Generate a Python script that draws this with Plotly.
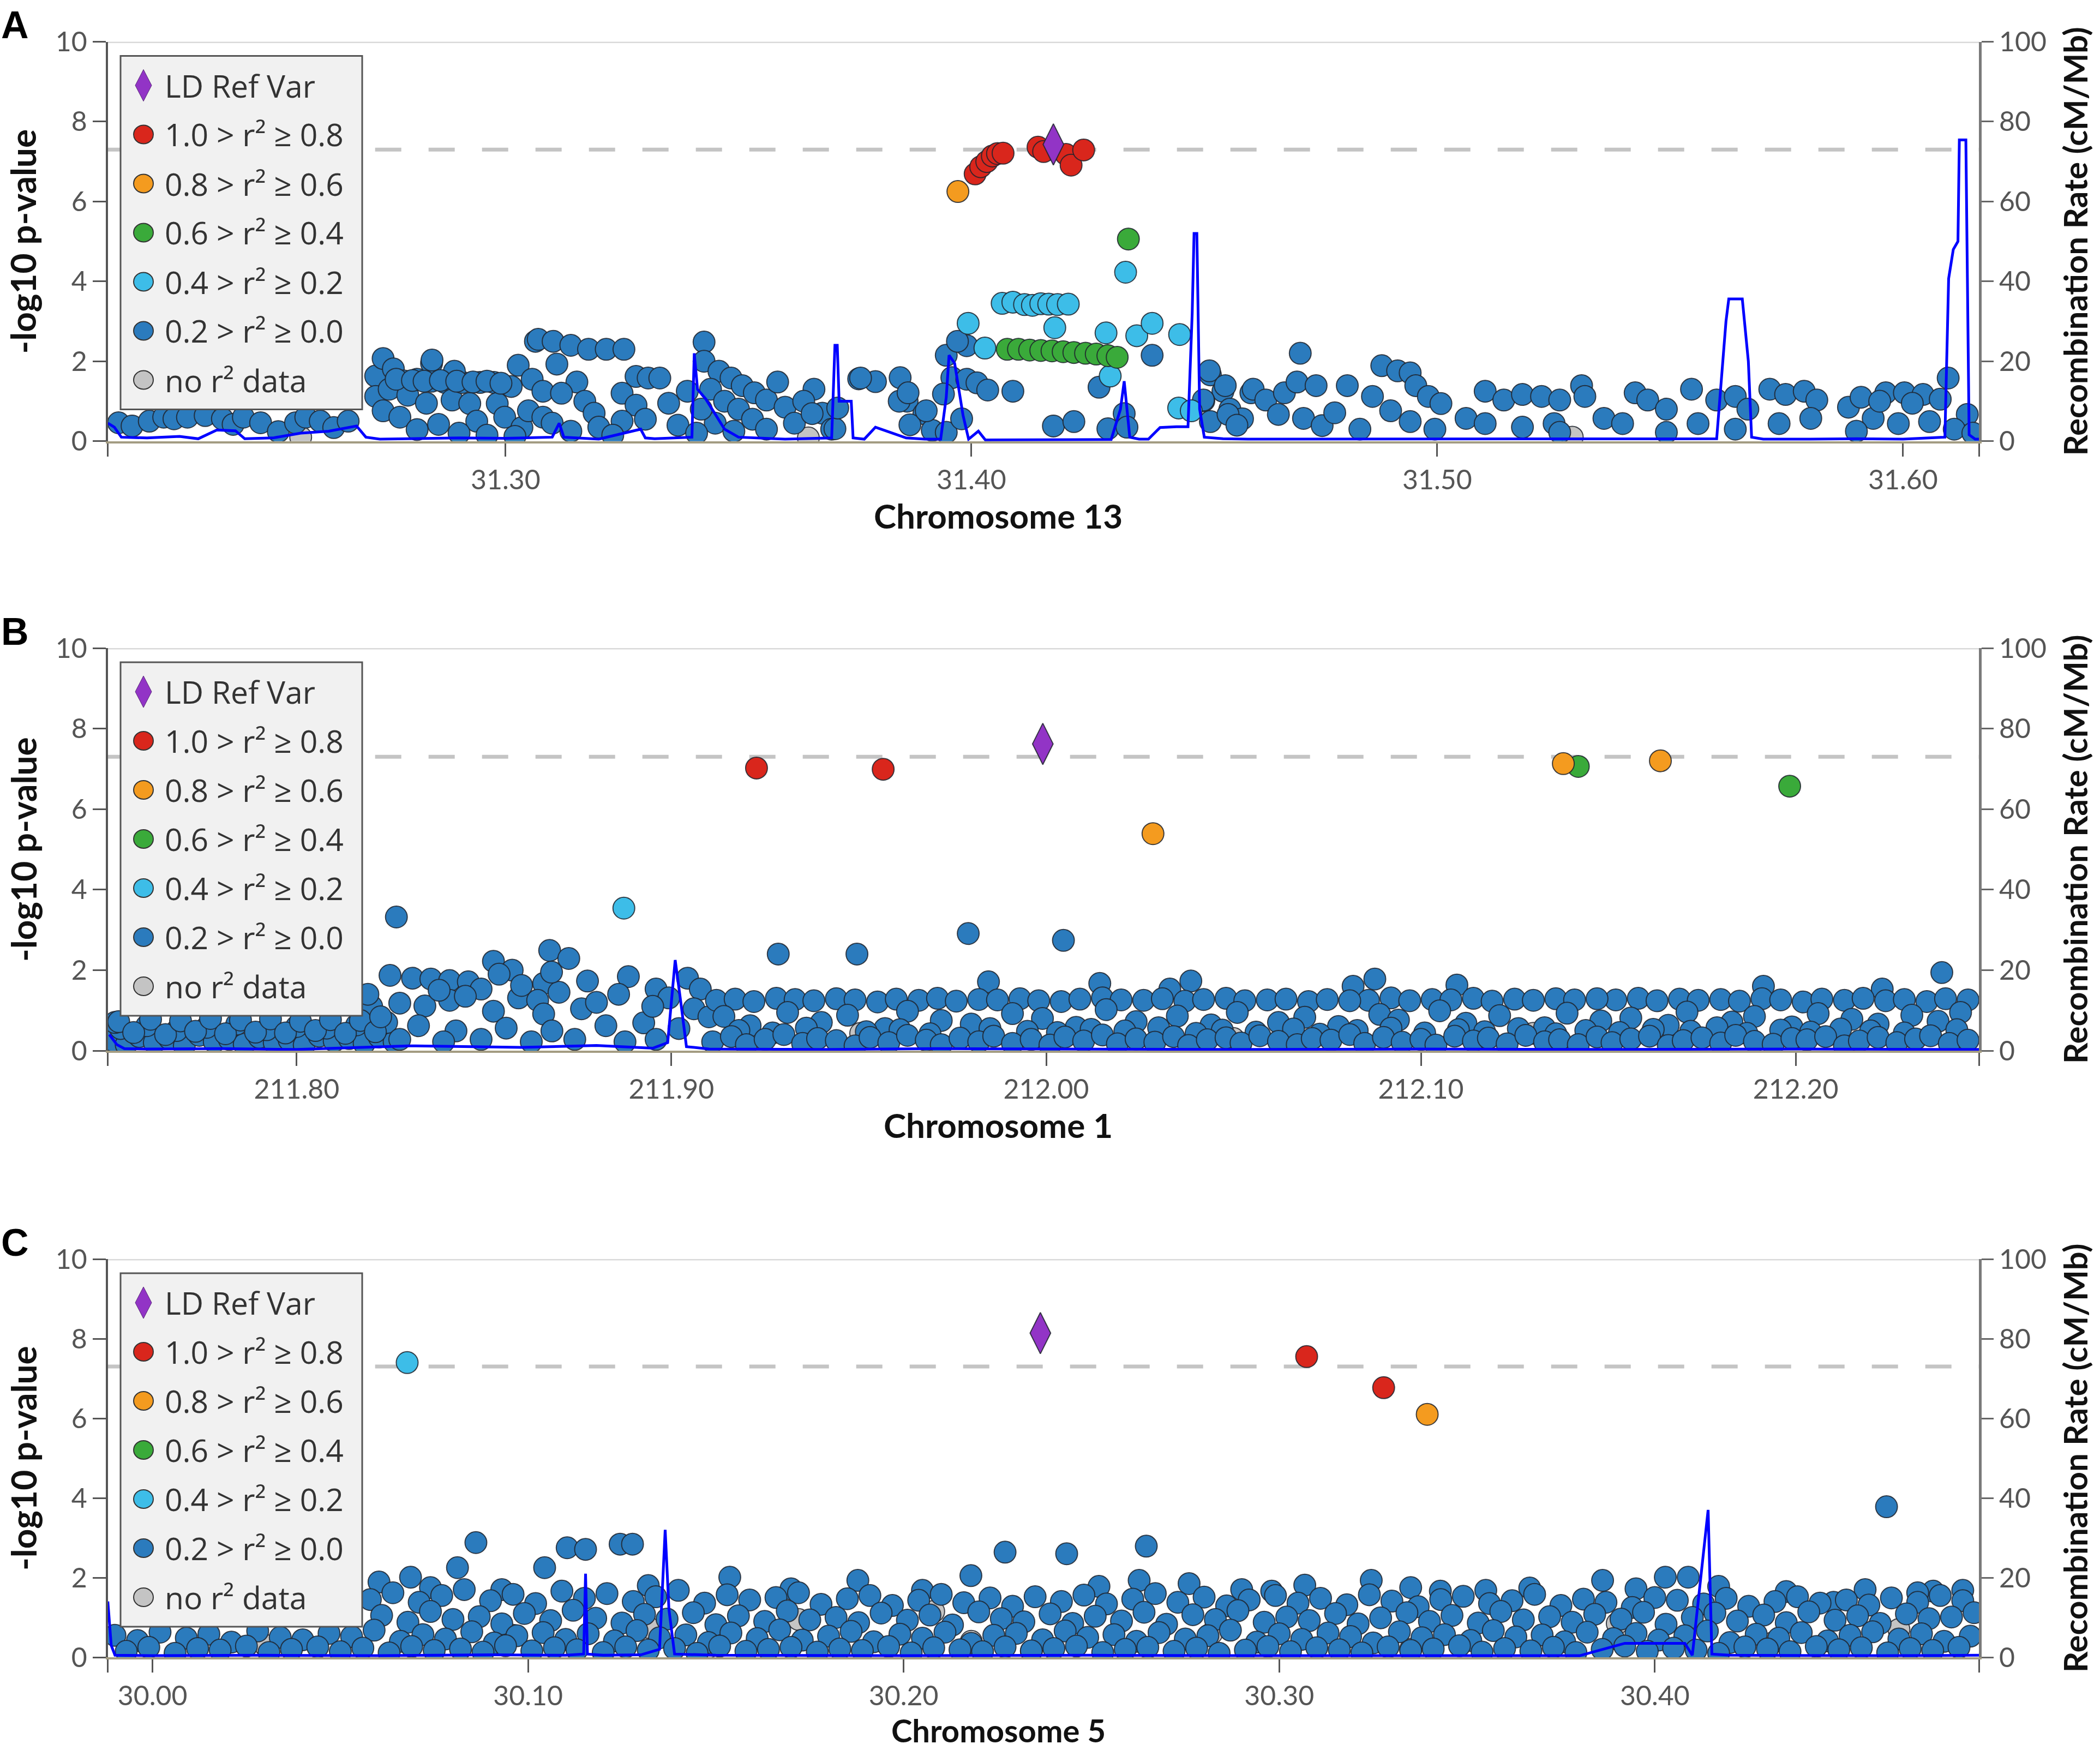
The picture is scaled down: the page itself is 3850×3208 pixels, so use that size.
import plotly.graph_objects as go

W, H = 3850, 3208

# colours of the LD classes
COL_REF = "#9234c6"
COL_R08 = "#d9261c"
COL_R06 = "#f49b1f"
COL_R04 = "#3aaa3a"
COL_R02 = "#3dbde8"
COL_R00 = "#2b7bbd"
COL_NA = "#c4c4c4"

LEGEND_LABELS = ["LD Ref Var", "1.0 > r\u00b2 \u2265 0.8", "0.8 > r\u00b2 \u2265 0.6", "0.6 > r\u00b2 \u2265 0.4",
                 "0.4 > r\u00b2 \u2265 0.2", "0.2 > r\u00b2 \u2265 0.0", "no r\u00b2 data"]

# ---------------- panel A : chromosome 13 ----------------
A_RANGE = [31.2146, 31.6163]
A_TICKS = [31.30, 31.40, 31.50, 31.60]
A_REF_X = [31.4176]
A_REF_Y = [7.43]
A_R08_X = [31.4008, 31.4020, 31.4033, 31.4045, 31.4056, 31.4068, 31.4143, 31.4155, 31.4203, 31.4214, 31.4241]
A_R08_Y = [6.69, 6.87, 7.00, 7.14, 7.20, 7.21, 7.36, 7.25, 7.18, 6.91, 7.29]
A_R06_X = [31.3971]
A_R06_Y = [6.25]
A_R04_X = [31.4337, 31.4077, 31.4101, 31.4125, 31.4149, 31.4173, 31.4197, 31.4220, 31.4245, 31.4268, 31.4293, 31.4313]
A_R04_Y = [5.06, 2.30, 2.30, 2.28, 2.27, 2.26, 2.24, 2.22, 2.20, 2.18, 2.14, 2.10]
A_R02_X = [31.4331, 31.4066, 31.4089, 31.4114, 31.4131, 31.4149, 31.4166, 31.4185, 31.4208, 31.3993,
           31.4179, 31.4289, 31.4355, 31.4388, 31.4447, 31.4029, 31.4298, 31.4445, 31.4472]
A_R02_Y = [4.23, 3.45, 3.48, 3.42, 3.40, 3.44, 3.43, 3.42, 3.43, 2.95,
           2.84, 2.71, 2.64, 2.95, 2.67, 2.33, 1.63, 0.83, 0.76]
A_R00_X = [31.2169, 31.2198, 31.2235, 31.2266, 31.2288, 31.2317, 31.2355, 31.2392, 31.2415, 31.2437,
           31.2474, 31.2512, 31.2549, 31.2571, 31.2602, 31.2631, 31.2662,
           31.2721, 31.2737, 31.2759, 31.2721, 31.2737, 31.2773, 31.2781, 31.2810, 31.2841, 31.2841,
           31.2870, 31.2885, 31.2907, 31.2945, 31.2923, 31.2938, 31.2856, 31.2810, 31.2975, 31.2982,
           31.3012, 31.3027, 31.3057, 31.3064, 31.2998, 31.3035, 31.3049, 31.3080, 31.3080, 31.2750,
           31.2790, 31.2830, 31.2900, 31.2960, 31.3020, 31.2842, 31.2890,
           31.2765, 31.2800, 31.2825, 31.2860, 31.2895, 31.2930, 31.2960, 31.2990,
           31.3070, 31.3102, 31.3140, 31.3178, 31.3216, 31.3254, 31.3110, 31.3153, 31.3120, 31.3170,
           31.3190, 31.3100, 31.3140, 31.3200, 31.3280, 31.3306, 31.3331, 31.3250, 31.3280, 31.3300,
           31.3250, 31.3350, 31.3370, 31.3230, 31.3390,
           31.3426, 31.3426, 31.3458, 31.3484, 31.3508, 31.3534, 31.3560, 31.3440, 31.3470, 31.3500,
           31.3530, 31.3450, 31.3420, 31.3410, 31.3490, 31.3560, 31.3584, 31.3600, 31.3620, 31.3662,
           31.3640, 31.3680, 31.3700, 31.3658, 31.3707, 31.3713, 31.3758, 31.3794, 31.3847, 31.3862,
           31.3845, 31.3898, 31.3868, 31.3916, 31.3946, 31.3762, 31.3864, 31.3903,
           31.3946, 31.3990, 31.3970, 31.3958, 31.3990, 31.4012, 31.4035, 31.3940, 31.4089, 31.4274,
           31.3979, 31.4176, 31.4220, 31.4293, 31.4328, 31.4334, 31.4388, 31.4513, 31.4540, 31.4499,
           31.4555, 31.4513, 31.4582, 31.4600,
           31.4706, 31.4511, 31.4545, 31.4498, 31.4551, 31.4605, 31.4632, 31.4672, 31.4699, 31.4740,
           31.4713, 31.4659, 31.4753, 31.4807, 31.4780, 31.4861, 31.4881, 31.4915, 31.4942, 31.4954,
           31.4981, 31.5008, 31.4900, 31.4942, 31.4834, 31.4995, 31.5062, 31.5103, 31.5143, 31.5183,
           31.5224, 31.5263, 31.5310, 31.5317, 31.5103, 31.5183, 31.5251, 31.5358, 31.5398, 31.5425,
           31.5452, 31.5492, 31.5546, 31.5560, 31.5600, 31.5640, 31.5667, 31.5714, 31.5748, 31.5788,
           31.5815, 31.5802, 31.5734, 31.5883, 31.5963, 31.6003, 31.6043, 31.6097, 31.5936, 31.5990,
           31.6057, 31.6138, 31.5640, 31.5492, 31.5263, 31.4570,
           31.5910, 31.5950, 31.6020, 31.6080, 31.6110, 31.5900, 31.6150]
A_R00_Y = [0.46, 0.38, 0.50, 0.60, 0.56, 0.60, 0.64, 0.56, 0.42, 0.60,
           0.46, 0.24, 0.46, 0.60, 0.50, 0.34, 0.50,
           1.63, 2.07, 1.81, 1.12, 0.76, 0.60, 1.51, 1.55, 1.95, 1.50,
           1.47, 1.03, 1.47, 1.47, 0.94, 0.50, 0.42, 0.29, 1.47, 0.94,
           1.37, 1.90, 1.55, 2.50, 0.60, 0.34, 0.76, 0.60, 1.25, 1.30,
           1.15, 0.95, 0.20, 0.15, 0.12, 2.03, 1.75,
           1.55, 1.52, 1.50, 1.52, 1.50, 1.48, 1.50, 1.45,
           2.55, 2.50, 2.40, 2.30, 2.30, 2.30, 1.93, 1.48, 1.20, 1.00,
           0.70, 0.45, 0.25, 0.35, 1.62, 1.58, 1.58, 1.20, 0.90, 0.55,
           0.50, 0.95, 0.40, 0.15, 1.25,
           2.48, 2.00, 1.75, 1.58, 1.39, 1.21, 1.03, 1.30, 1.00, 0.80,
           0.55, 0.45, 0.80, 0.20, 0.25, 0.30, 1.48, 0.85, 0.45, 1.30,
           1.00, 0.70, 0.30, 0.69, 0.31, 0.83, 1.56, 1.49, 1.59, 1.00,
           1.00, 0.69, 0.41, 0.27, 0.22, 1.58, 1.21, 0.76,
           2.15, 2.39, 2.50, 1.59, 1.55, 1.46, 1.28, 1.18, 1.25, 1.35,
           0.56, 0.38, 0.49, 0.31, 0.69, 0.35, 2.15, 1.66, 1.25, 1.01,
           0.80, 0.49, 0.56, 1.21,
           2.20, 1.76, 1.39, 1.03, 0.67, 1.30, 1.03, 1.21, 1.48, 1.39,
           0.57, 0.67, 0.39, 1.39, 0.71, 1.12, 1.89, 1.76, 1.71, 1.39,
           1.12, 0.94, 0.76, 0.49, 0.30, 0.30, 0.57, 1.25, 1.03, 1.17,
           1.12, 1.03, 1.39, 1.12, 0.44, 0.35, 0.44, 0.57, 0.44, 1.21,
           1.03, 0.80, 1.30, 0.44, 1.03, 1.12, 0.80, 1.30, 1.17, 1.25,
           1.03, 0.57, 0.44, 0.85, 1.21, 1.21, 1.17, 1.58, 0.57, 0.44,
           0.49, 0.67, 0.30, 0.22, 0.22, 0.40,
           1.10, 1.00, 0.95, 1.05, 0.30, 0.25, 0.20]
A_NA_X = [31.2560, 31.3650, 31.5290]
A_NA_Y = [0.10, 0.08, 0.10]
A_REC_X = [31.2146, 31.2160, 31.2175, 31.2230, 31.2300, 31.2340, 31.2380, 31.2420, 31.2440, 31.2500,
           31.2560, 31.2620, 31.2680, 31.2700, 31.2730, 31.2800, 31.2900, 31.3000, 31.3100, 31.3115,
           31.3125, 31.3200, 31.3290, 31.3300, 31.3320, 31.3400, 31.3405, 31.3412, 31.3430, 31.3470,
           31.3500, 31.3600, 31.3700, 31.3707, 31.3712, 31.3716, 31.3742, 31.3746, 31.3770, 31.3794,
           31.3830, 31.3860, 31.3900, 31.3934, 31.3946, 31.3952, 31.3964, 31.3982, 31.3994, 31.4015,
           31.4030, 31.4100, 31.4200, 31.4300, 31.4320, 31.4328, 31.4340, 31.4360, 31.4380, 31.4405,
           31.4440, 31.4465, 31.4474, 31.4478, 31.4484, 31.4490, 31.4500, 31.4540, 31.4600, 31.4700,
           31.4800, 31.4900, 31.5000, 31.5200, 31.5400, 31.5600, 31.5620, 31.5626, 31.5655, 31.5668,
           31.5675, 31.5700, 31.5800, 31.5900, 31.6000, 31.6090, 31.6098, 31.6108, 31.6118, 31.6121,
           31.6135, 31.6142, 31.6155, 31.6163]
A_REC_Y = [4.5, 3.5, 1.0, 0.8, 1.2, 0.6, 2.8, 2.6, 0.6, 0.8,
           2.0, 2.5, 3.8, 1.0, 0.5, 0.6, 0.8, 0.7, 1.0, 4.5,
           1.0, 0.5, 3.0, 0.8, 0.6, 1.0, 22.0, 13.0, 10.5, 3.0,
           1.0, 0.5, 0.8, 24.0, 24.0, 10.0, 10.0, 0.8, 0.5, 3.5,
           2.0, 0.8, 0.5, 0.5, 11.0, 21.5, 19.5, 6.5, 0.5, 2.5,
           0.3, 0.3, 0.3, 0.4, 8.0, 15.0, 1.0, 0.5, 0.5, 3.4,
           3.6, 3.6, 32.0, 52.0, 52.0, 8.0, 1.0, 0.6, 0.5, 0.5,
           0.5, 0.6, 0.5, 0.5, 0.5, 0.6, 30.0, 35.6, 35.6, 20.0,
           1.0, 0.5, 0.5, 0.6, 0.5, 1.0, 40.7, 48.0, 50.0, 75.4,
           75.4, 1.6, 0.5, 0.5]

# ---------------- panel B : chromosome 1 ----------------
B_RANGE = [211.7496, 212.2489]
B_TICKS = [211.80, 211.90, 212.00, 212.10, 212.20]
B_REF_X = [211.9991]
B_REF_Y = [7.62]
B_R08_X = [211.9227, 211.9565]
B_R08_Y = [7.02, 6.99]
B_R06_X = [212.0285, 212.1380, 212.1639]
B_R06_Y = [5.39, 7.13, 7.20]
B_R04_X = [212.1420, 212.1984]
B_R04_Y = [7.06, 6.57]
B_R02_X = [211.8873]
B_R02_Y = [3.54]
B_R00_X = [211.8266, 211.8675, 211.9285, 211.9495, 211.9792, 212.0046, 212.2390, 211.9846, 212.0143, 212.0386,
           212.0330, 212.0819, 212.0877, 212.1096, 212.1914, 212.2231,
           # left part, below the legend
           211.7510, 211.7545, 211.7580, 211.7620, 211.7660, 211.7700, 211.7740, 211.7780, 211.7820, 211.7860,
           211.7900, 211.7940, 211.7980, 211.8020, 211.8060, 211.8100, 211.8140, 211.8180, 211.8220, 211.8260,
           211.7530, 211.7600, 211.7680, 211.7760, 211.7840, 211.7920, 211.8000, 211.8080, 211.8160, 211.8240,
           211.7515, 211.8200, 211.8190,
           211.7525, 211.7565, 211.7610, 211.7650, 211.7690, 211.7730, 211.7770, 211.7810, 211.7850, 211.7890,
           211.7930, 211.7970, 211.8010, 211.8050, 211.8090, 211.8130, 211.8170, 211.8210,
           # mound 211.82 - 211.91
           211.8249, 211.8309, 211.8358, 211.8408, 211.8458, 211.8525, 211.8575, 211.8726, 211.8776, 211.8885,
           211.8859, 211.8659, 211.8492, 211.8592, 211.8643, 211.8275, 211.8342, 211.8408, 211.8525, 211.8659,
           211.8760, 211.8224, 211.8325, 211.8425, 211.8559, 211.8681, 211.8825, 211.8926, 211.8275, 211.8392,
           211.8492, 211.8626, 211.8742, 211.8876, 211.8959, 211.8959, 211.8993, 211.9043, 211.9077, 211.9060,
           211.9100, 211.8700, 211.8800, 211.8600, 211.8450, 211.8950, 211.9020, 211.8680, 211.8540, 211.8380,
           # upper row
           211.912, 211.917, 211.922, 211.928, 211.933, 211.938, 211.944, 211.949, 211.955, 211.960,
           211.966, 211.971, 211.976, 211.982, 211.987, 211.993, 211.998, 212.004, 212.009, 212.015,
           212.020, 212.026, 212.031, 212.037, 212.042, 212.048, 212.053, 212.059, 212.064, 212.070,
           212.086, 212.092, 212.097, 212.103, 212.108, 212.114, 212.119, 212.125, 212.130, 212.136,
           212.152, 212.158, 212.163, 212.169, 212.174, 212.180, 212.185, 212.191, 212.196, 212.202,
           212.207, 212.213, 212.218, 212.224, 212.229, 212.235, 212.240, 212.246,
           212.075, 212.081, 212.141, 212.147,
           # middle scatter
           211.914, 211.921, 211.931, 211.940, 211.947, 211.957, 211.963, 211.972, 211.980, 211.991,
           211.999, 212.008, 212.016, 212.024, 212.035, 212.044, 212.051, 212.062, 212.069, 212.078,
           212.089, 212.094, 212.105, 212.112, 212.121, 212.133, 212.139, 212.148, 212.156, 212.166,
           212.171, 212.183, 212.189, 212.199, 212.206, 212.215, 212.222, 212.231, 212.238, 212.244,
           # lower middle
           211.918, 211.927, 211.936, 211.952, 211.961, 211.969, 211.985, 211.995, 212.003, 212.012,
           212.021, 212.030, 212.040, 212.047, 212.056, 212.066, 212.073, 212.083, 212.092, 212.101,
           212.110, 212.117, 212.126, 212.136, 212.144, 212.153, 212.162, 212.172, 212.179, 212.187,
           212.196, 212.204, 212.212, 212.220, 212.229, 212.243,
           # bottom row
           211.911, 211.916, 211.920, 211.925, 211.930, 211.935, 211.939, 211.944, 211.949, 211.953,
           211.958, 211.963, 211.968, 211.972, 211.977, 211.982, 211.986, 211.991, 211.996, 212.001,
           212.005, 212.010, 212.015, 212.019, 212.024, 212.029, 212.034, 212.038, 212.043, 212.048,
           212.052, 212.057, 212.062, 212.067, 212.071, 212.076, 212.081, 212.085, 212.090, 212.095,
           212.100, 212.104, 212.109, 212.114, 212.118, 212.123, 212.128, 212.133, 212.137, 212.142,
           212.147, 212.151, 212.156, 212.161, 212.166, 212.170, 212.175, 212.180, 212.184, 212.189,
           212.194, 212.199, 212.203, 212.208, 212.213, 212.217, 212.222, 212.227, 212.232, 212.236,
           212.241, 212.246]
B_R00_Y = [3.32, 2.49, 2.40, 2.40, 2.91, 2.74, 1.94, 1.71, 1.67, 1.73,
           1.53, 1.60, 1.78, 1.63, 1.60, 1.53,
           0.25, 0.15, 0.35, 0.20, 0.30, 0.12, 0.38, 0.22, 0.28, 0.16,
           0.33, 0.20, 0.26, 0.14, 0.36, 0.24, 0.30, 0.18, 0.34, 0.22,
           0.55, 0.62, 0.50, 0.58, 0.66, 0.52, 0.60, 0.56, 0.64, 0.70,
           0.70, 1.10, 1.40,
           0.72, 0.45, 0.78, 0.40, 0.74, 0.48, 0.80, 0.42, 0.76, 0.46,
           0.79, 0.44, 0.73, 0.50, 0.77, 0.43, 0.75, 0.47,
           1.87, 1.80, 1.78, 1.74, 1.71, 2.22, 2.00, 2.29, 1.73, 1.84,
           1.40, 1.67, 1.53, 1.31, 1.25, 1.18, 1.11, 1.25, 0.98, 0.91,
           1.04, 0.84, 0.62, 0.49, 0.56, 0.49, 0.62, 0.69, 0.28, 0.22,
           0.28, 0.22, 0.28, 0.22, 0.28, 1.53, 1.31, 1.80, 1.53, 1.04,
           0.84, 1.45, 1.20, 1.62, 1.35, 1.10, 0.55, 1.95, 1.90, 1.50,
           1.25, 1.28, 1.22, 1.30, 1.27, 1.24, 1.29, 1.26, 1.21, 1.28,
           1.25, 1.30, 1.23, 1.27, 1.26, 1.29, 1.24, 1.22, 1.28, 1.31,
           1.26, 1.25, 1.29, 1.23, 1.27, 1.30, 1.24, 1.26, 1.28, 1.22,
           1.25, 1.31, 1.24, 1.27, 1.26, 1.30, 1.23, 1.28, 1.25, 1.29,
           1.26, 1.30, 1.24, 1.28, 1.25, 1.27, 1.23, 1.29, 1.26, 1.21,
           1.28, 1.25, 1.30, 1.24, 1.27, 1.22, 1.29, 1.26,
           1.27, 1.24, 1.26, 1.29,
           0.85, 0.62, 0.95, 0.70, 0.88, 0.55, 0.98, 0.75, 0.66, 0.92,
           0.80, 0.58, 1.02, 0.72, 0.86, 0.64, 0.95, 0.70, 0.83, 0.60,
           0.90, 0.76, 0.99, 0.68, 0.87, 0.57, 0.93, 0.74, 0.81, 0.63,
           0.96, 0.71, 0.85, 0.59, 0.92, 0.78, 0.66, 0.88, 0.73, 0.95,
           0.50, 0.44, 0.56, 0.47, 0.52, 0.42, 0.55, 0.48, 0.45, 0.53,
           0.49, 0.57, 0.43, 0.51, 0.46, 0.54, 0.41, 0.50, 0.56, 0.44,
           0.52, 0.47, 0.55, 0.42, 0.50, 0.45, 0.53, 0.48, 0.57, 0.43,
           0.51, 0.46, 0.54, 0.49, 0.44, 0.52,
           0.22, 0.35, 0.15, 0.28, 0.40, 0.18, 0.30, 0.25, 0.12, 0.33,
           0.20, 0.38, 0.26, 0.15, 0.31, 0.22, 0.36, 0.18, 0.28, 0.14,
           0.34, 0.24, 0.39, 0.17, 0.29, 0.21, 0.35, 0.13, 0.27, 0.32,
           0.19, 0.37, 0.23, 0.15, 0.30, 0.26, 0.40, 0.18, 0.33, 0.21,
           0.28, 0.14, 0.36, 0.24, 0.31, 0.17, 0.38, 0.22, 0.27, 0.15,
           0.34, 0.20, 0.29, 0.36, 0.13, 0.25, 0.32, 0.19, 0.38, 0.23,
           0.16, 0.30, 0.27, 0.35, 0.12, 0.24, 0.33, 0.20, 0.29, 0.37,
           0.18, 0.26]
B_NA_X = [211.9505, 212.1300, 212.2300, 211.7900, 212.0500]
B_NA_Y = [0.43, 0.43, 0.20, 0.10, 0.30]
B_REC_X = [211.7500, 211.7520, 211.7540, 211.7600, 211.7800, 211.8000, 211.8300, 211.8600, 211.8800, 211.8950,
           211.8990, 211.9010, 211.9025, 211.9040, 211.9100, 211.9400, 211.9700, 212.0000, 212.0500, 212.1000,
           212.1500, 212.2000, 212.2489]
B_REC_Y = [4.0, 1.5, 0.5, 0.4, 0.5, 0.3, 1.2, 0.8, 1.3, 0.6,
           2.0, 22.5, 12.0, 1.0, 0.4, 0.3, 0.5, 0.4, 0.3, 0.4,
           0.3, 0.4, 0.3]

# ---------------- panel C : chromosome 5 ----------------
C_RANGE = [29.9881, 30.4863]
C_TICKS = [30.00, 30.10, 30.20, 30.30, 30.40]
C_REF_X = [30.2364]
C_REF_Y = [8.14]
C_R08_X = [30.3073, 30.3278]
C_R08_Y = [7.55, 6.77]
C_R06_X = [30.3394]
C_R06_Y = [6.10]
C_R04_X = []
C_R04_Y = []
C_R02_X = [30.0678]
C_R02_Y = [7.40]
C_R00_X = [30.4617, 30.2434, 30.2646, 30.3861, 30.4028, 30.4089, 30.4476, 30.4741, 30.3429, 30.3667,
           30.3245, 30.3068, 30.2627, 30.2760, 30.2980, 30.0861, 30.1104, 30.1153, 30.1245, 30.1278,
           30.1044, 30.0812, 30.1537, 30.2270, 30.2179, 30.1878, 30.0687, 30.0603,
           30.0740, 30.0930, 30.1320, 30.1700, 30.2050, 30.2520, 30.2900, 30.3350, 30.3550, 30.3950,
           30.4170, 30.4350, 30.4560, 30.4700, 30.4820,
           # top of the band
           30.058, 30.064, 30.071, 30.077, 30.083, 30.090, 30.096, 30.102, 30.109, 30.115,
           30.121, 30.128, 30.134, 30.140, 30.147, 30.153, 30.159, 30.166, 30.172, 30.178,
           30.185, 30.191, 30.197, 30.204, 30.210, 30.216, 30.223, 30.229, 30.235, 30.242,
           30.248, 30.254, 30.261, 30.267, 30.273, 30.280, 30.286, 30.292, 30.299, 30.305,
           30.311, 30.318, 30.324, 30.330, 30.337, 30.343, 30.349, 30.356, 30.362, 30.368,
           30.375, 30.381, 30.387, 30.394, 30.400, 30.406, 30.413, 30.419, 30.425, 30.432,
           30.438, 30.444, 30.451, 30.457, 30.463, 30.470, 30.476, 30.482,
           # middle of the band
           30.061, 30.068, 30.074, 30.080, 30.087, 30.093, 30.099, 30.106, 30.112, 30.118,
           30.125, 30.131, 30.137, 30.144, 30.150, 30.156, 30.163, 30.169, 30.175, 30.182,
           30.188, 30.194, 30.201, 30.207, 30.213, 30.220, 30.226, 30.232, 30.239, 30.245,
           30.251, 30.258, 30.264, 30.270, 30.277, 30.283, 30.289, 30.296, 30.302, 30.308,
           30.315, 30.321, 30.327, 30.334, 30.340, 30.346, 30.353, 30.359, 30.365, 30.372,
           30.378, 30.384, 30.391, 30.397, 30.403, 30.410, 30.416, 30.422, 30.429, 30.435,
           30.441, 30.448, 30.454, 30.460, 30.467, 30.473, 30.479, 30.485,
           # lower part
           29.990, 29.996, 30.002, 30.009, 30.015, 30.021, 30.028, 30.034, 30.040, 30.047,
           30.053, 30.059, 30.066, 30.072, 30.078, 30.085, 30.091, 30.097, 30.104, 30.110,
           30.116, 30.123, 30.129, 30.135, 30.142, 30.148, 30.154, 30.161, 30.167, 30.173,
           30.180, 30.186, 30.192, 30.199, 30.205, 30.211, 30.218, 30.224, 30.230, 30.237,
           30.243, 30.249, 30.256, 30.262, 30.268, 30.275, 30.281, 30.287, 30.294, 30.300,
           30.306, 30.313, 30.319, 30.325, 30.332, 30.338, 30.344, 30.351, 30.357, 30.363,
           30.370, 30.376, 30.382, 30.389, 30.395, 30.401, 30.408, 30.414, 30.420, 30.427,
           30.433, 30.439, 30.446, 30.452, 30.458, 30.465, 30.471, 30.477, 30.484,
           # bottom row
           29.993, 29.999, 30.006, 30.012, 30.018, 30.025, 30.031, 30.037, 30.044, 30.050,
           30.056, 30.063, 30.069, 30.075, 30.082, 30.088, 30.094, 30.101, 30.107, 30.113,
           30.120, 30.126, 30.132, 30.139, 30.145, 30.151, 30.158, 30.164, 30.170, 30.177,
           30.183, 30.189, 30.196, 30.202, 30.208, 30.215, 30.221, 30.227, 30.234, 30.240,
           30.246, 30.253, 30.259, 30.265, 30.272, 30.278, 30.284, 30.291, 30.297, 30.303,
           30.310, 30.316, 30.322, 30.329, 30.335, 30.341, 30.348, 30.354, 30.360, 30.367,
           30.373, 30.379, 30.386, 30.392, 30.398, 30.405, 30.411, 30.417, 30.424, 30.430,
           30.436, 30.443, 30.449, 30.455, 30.462, 30.468, 30.474, 30.481]
C_R00_Y = [3.78, 2.60, 2.79, 1.93, 2.01, 2.01, 1.38, 1.66, 1.66, 1.74,
           1.93, 1.81, 1.93, 1.85, 1.66, 2.88, 2.75, 2.71, 2.84, 2.84,
           2.25, 2.25, 2.01, 2.64, 2.05, 1.93, 2.01, 1.89,
           1.75, 1.70, 1.80, 1.72, 1.68, 1.78, 1.70, 1.75, 1.68, 1.72,
           1.78, 1.65, 1.70, 1.62, 1.68,
           1.45, 1.62, 1.38, 1.55, 1.70, 1.42, 1.58, 1.35, 1.66, 1.48,
           1.60, 1.40, 1.52, 1.68, 1.36, 1.57, 1.44, 1.50, 1.62, 1.33,
           1.47, 1.55, 1.30, 1.43, 1.58, 1.37, 1.49, 1.28, 1.52, 1.40,
           1.56, 1.34, 1.46, 1.60, 1.38, 1.51, 1.29, 1.44, 1.55, 1.36,
           1.48, 1.32, 1.57, 1.41, 1.27, 1.45, 1.53, 1.35, 1.42, 1.58,
           1.30, 1.46, 1.38, 1.25, 1.50, 1.43, 1.34, 1.48, 1.28, 1.40,
           1.52, 1.36, 1.44, 1.31, 1.49, 1.38, 1.55, 1.42,
           1.05, 0.88, 1.15, 0.95, 1.02, 0.84, 1.10, 0.92, 1.18, 0.98,
           0.86, 1.08, 0.96, 1.12, 0.82, 1.04, 0.90, 1.16, 0.94, 1.00,
           0.87, 1.11, 0.93, 1.06, 0.81, 1.14, 0.97, 0.89, 1.09, 0.85,
           1.03, 0.91, 1.13, 0.83, 1.07, 0.95, 1.17, 0.88, 1.01, 0.92,
           1.10, 0.84, 0.99, 1.12, 0.90, 1.05, 0.86, 1.15, 0.94, 1.02,
           0.88, 1.08, 0.96, 1.13, 0.83, 1.00, 1.11, 0.91, 1.06, 0.87,
           1.14, 0.93, 1.04, 0.85, 1.09, 0.97, 1.01, 1.12,
           0.55, 0.42, 0.63, 0.48, 0.58, 0.38, 0.66, 0.50, 0.44, 0.60,
           0.52, 0.68, 0.40, 0.57, 0.46, 0.64, 0.36, 0.54, 0.62, 0.45,
           0.59, 0.41, 0.67, 0.49, 0.56, 0.37, 0.61, 0.47, 0.69, 0.43,
           0.53, 0.65, 0.39, 0.58, 0.48, 0.63, 0.35, 0.55, 0.60, 0.44,
           0.66, 0.50, 0.57, 0.40, 0.62, 0.46, 0.54, 0.68, 0.38, 0.59,
           0.45, 0.61, 0.52, 0.36, 0.64, 0.49, 0.57, 0.42, 0.67, 0.51,
           0.56, 0.39, 0.63, 0.47, 0.60, 0.43, 0.54, 0.66, 0.37, 0.58,
           0.48, 0.62, 0.41, 0.55, 0.64, 0.46, 0.59, 0.40, 0.53,
           0.15, 0.25, 0.10, 0.22, 0.18, 0.28, 0.12, 0.20, 0.26, 0.14,
           0.23, 0.11, 0.27, 0.17, 0.21, 0.13, 0.29, 0.16, 0.24, 0.19,
           0.12, 0.26, 0.18, 0.22, 0.10, 0.28, 0.15, 0.20, 0.25, 0.13,
           0.21, 0.17, 0.27, 0.11, 0.24, 0.19, 0.14, 0.26, 0.16, 0.22,
           0.28, 0.12, 0.20, 0.25, 0.15, 0.23, 0.10, 0.18, 0.27, 0.14,
           0.24, 0.19, 0.11, 0.26, 0.17, 0.21, 0.29, 0.13, 0.22, 0.16,
           0.25, 0.12, 0.20, 0.28, 0.15, 0.23, 0.18, 0.10, 0.26, 0.21,
           0.14, 0.27, 0.19, 0.24, 0.11, 0.22, 0.17, 0.25]
C_NA_X = [30.0300, 30.0960, 30.1320, 30.1720, 30.2180, 30.2340, 30.2820, 30.3350, 30.3900, 30.4310,
          30.4650, 30.2080, 30.1480]
C_NA_Y = [0.30, 0.55, 0.75, 0.95, 0.40, 0.15, 0.60, 0.20, 0.85, 0.35,
          0.70, 1.15, 0.25]
C_REC_X = [29.9881, 29.9890, 29.9900, 30.0000, 30.0300, 30.0600, 30.0900, 30.1100, 30.1148, 30.1153,
           30.1158, 30.1200, 30.1300, 30.1350, 30.1365, 30.1375, 30.1390, 30.1500, 30.2000, 30.2500,
           30.3000, 30.3500, 30.3800, 30.3920, 30.4080, 30.4100, 30.4135, 30.4142, 30.4152, 30.4200,
           30.4600, 30.4863]
C_REC_Y = [14.0, 3.0, 0.5, 0.4, 0.5, 0.4, 0.6, 0.5, 0.8, 21.0,
           0.8, 0.5, 0.6, 2.0, 32.0, 12.0, 0.8, 0.5, 0.4, 0.5,
           0.4, 0.5, 0.4, 3.5, 3.5, 0.5, 30.0, 37.0, 0.8, 0.5,
           0.4, 0.5]

for xs, ys in [(A_R00_X, A_R00_Y), (A_REC_X, A_REC_Y), (B_R00_X, B_R00_Y), (B_REC_X, B_REC_Y),
               (C_R00_X, C_R00_Y), (C_REC_X, C_REC_Y), (A_R02_X, A_R02_Y), (A_R04_X, A_R04_Y),
               (A_R08_X, A_R08_Y), (C_NA_X, C_NA_Y)]:
    assert len(xs) == len(ys), (len(xs), len(ys))

# pixel geometry of the three panels
X_LEFT, X_RIGHT = 197.7, 3628
TOPS = [76.5, 1188, 2308]
BOTS = [808.7, 1926, 3038]
FONT = "Lato"
LEG_FONT = "Open Sans"

panels = [
    ("A", "Chromosome 13", A_RANGE, A_TICKS,
     [(A_NA_X, A_NA_Y, COL_NA), (A_R00_X, A_R00_Y, COL_R00), (A_R02_X, A_R02_Y, COL_R02),
      (A_R04_X, A_R04_Y, COL_R04), (A_R06_X, A_R06_Y, COL_R06), (A_R08_X, A_R08_Y, COL_R08)],
     (A_REF_X, A_REF_Y), (A_REC_X, A_REC_Y)),
    ("B", "Chromosome 1", B_RANGE, B_TICKS,
     [(B_NA_X, B_NA_Y, COL_NA), (B_R00_X, B_R00_Y, COL_R00), (B_R02_X, B_R02_Y, COL_R02),
      (B_R04_X, B_R04_Y, COL_R04), (B_R06_X, B_R06_Y, COL_R06), (B_R08_X, B_R08_Y, COL_R08)],
     (B_REF_X, B_REF_Y), (B_REC_X, B_REC_Y)),
    ("C", "Chromosome 5", C_RANGE, C_TICKS,
     [(C_NA_X, C_NA_Y, COL_NA), (C_R00_X, C_R00_Y, COL_R00), (C_R02_X, C_R02_Y, COL_R02),
      (C_R04_X, C_R04_Y, COL_R04), (C_R06_X, C_R06_Y, COL_R06), (C_R08_X, C_R08_Y, COL_R08)],
     (C_REF_X, C_REF_Y), (C_REC_X, C_REC_Y)),
]

fig = go.Figure()
layout = {}
shapes = []
annotations = []
outline = dict(color="rgba(30,35,45,0.85)", width=2)

for i, (letter, xtitle, rng, ticks, groups, ref, rec) in enumerate(panels):
    n = i + 1
    xa = "x" if n == 1 else f"x{n}"
    ya = "y" if n == 1 else f"y{2 * n - 1}"
    yb = f"y{2 * n}"
    top, bot = TOPS[i], BOTS[i]

    for xs, ys, col in groups:
        fig.add_trace(go.Scatter(x=xs, y=ys, mode="markers", xaxis=xa, yaxis=ya, showlegend=False,
                                 marker=dict(color=col, size=40, line=outline)))
    fig.add_trace(go.Scatter(x=ref[0], y=ref[1], mode="markers", xaxis=xa, yaxis=ya, showlegend=False,
                             marker=dict(color=COL_REF, size=54, symbol="diamond-tall", line=outline)))
    fig.add_trace(go.Scatter(x=rec[0], y=rec[1], mode="lines", xaxis=xa, yaxis=yb, showlegend=False,
                             line=dict(color="#0000ff", width=5)))

    layout["xaxis" if n == 1 else f"xaxis{n}"] = dict(
        domain=[X_LEFT / W, X_RIGHT / W], range=rng, anchor=ya, automargin=False,
        tickvals=[rng[0]] + ticks + [rng[1]], ticktext=[""] + [f"{t:.2f}" for t in ticks] + [""],
        ticks="outside", ticklen=24, tickwidth=3, tickcolor="#555",
        showline=True, linecolor="#a39c82", linewidth=4, showgrid=False, zeroline=False,
        tickfont=dict(family=FONT, size=50, color="#555"))
    layout["yaxis" if n == 1 else f"yaxis{2 * n - 1}"] = dict(
        domain=[1 - bot / H, 1 - top / H], range=[0, 10], anchor=xa, automargin=False,
        tickvals=[0, 2, 4, 6, 8, 10], ticks="outside", ticklen=24, tickwidth=3, tickcolor="#555",
        showline=True, linecolor="#555", linewidth=4, showgrid=False, zeroline=False,
        tickfont=dict(family=FONT, size=50, color="#555"))
    layout[f"yaxis{2 * n}"] = dict(
        overlaying=ya, side="right", anchor=xa, range=[0, 100], automargin=False,
        tickvals=[0, 20, 40, 60, 80, 100], ticks="outside", ticklen=22, tickwidth=3, tickcolor="#666",
        showline=True, linecolor="#7a7a7a", linewidth=5, showgrid=False, zeroline=False,
        tickfont=dict(family=FONT, size=50, color="#555"))

    xd = f"{xa} domain"
    # top grid line and genome-wide significance line
    shapes.append(dict(type="line", xref=xd, yref=ya, x0=0, x1=1, y0=10, y1=10,
                       line=dict(color="#d9d9d9", width=5), layer="below"))
    shapes.append(dict(type="line", xref=xd, yref=ya, x0=0, x1=1, y0=7.3, y1=7.3,
                       line=dict(color="#c4c4c4", width=7, dash="48px,50px"), layer="below"))

    # legend box drawn by hand
    shapes.append(dict(type="rect", xref="paper", yref="paper", x0=221 / W, x1=664 / W,
                       y0=1 - (top + 674) / H, y1=1 - (top + 26) / H,
                       fillcolor="#f1f1f1", line=dict(color="#555", width=3), layer="above"))
    cols = [COL_REF, COL_R08, COL_R06, COL_R04, COL_R02, COL_R00, COL_NA]
    for k, (lab, col) in enumerate(zip(LEGEND_LABELS, cols)):
        yc = 1 - (top + 80 + 90 * k) / H
        if k == 0:
            shapes.append(dict(type="path", xref="paper", yref="paper", xsizemode="pixel", ysizemode="pixel",
                               xanchor=263 / W, yanchor=yc, path="M 0 29 L 15 0 L 0 -29 L -15 0 Z",
                               fillcolor=col, line=dict(color="#5a2a7a", width=1), layer="above"))
        else:
            shapes.append(dict(type="circle", xref="paper", yref="paper", xsizemode="pixel", ysizemode="pixel",
                               xanchor=263 / W, yanchor=yc, x0=-18, x1=18, y0=-17, y1=17,
                               fillcolor=col, line=dict(color="#333", width=2), layer="above"))
        annotations.append(dict(text=lab, xref="paper", yref="paper", x=300 / W, y=yc, xanchor="left",
                                yanchor="middle", showarrow=False,
                                font=dict(family=LEG_FONT, size=57, color="#333")))

    mid = 1 - (top + bot) / 2 / H
    annotations.append(dict(text=f"<b>{letter}</b>", xref="paper", yref="paper", x=0, y=1 - (top - 30) / H,
                            xanchor="left", yanchor="middle", showarrow=False,
                            font=dict(family="Liberation Sans", size=70, color="black")))
    annotations.append(dict(text="<b>-log10 p-value</b>", xref="paper", yref="paper", x=42 / W, y=mid,
                            xanchor="center", yanchor="middle", textangle=-90, showarrow=False,
                            font=dict(family=FONT, size=64, color="#111")))
    annotations.append(dict(text="<b>Recombination Rate (cM/Mb)</b>", xref="paper", yref="paper",
                            x=3804 / W, y=mid, xanchor="center", yanchor="middle", textangle=-90,
                            showarrow=False, font=dict(family=FONT, size=60, color="#111")))
    if n < 3:
        annotations.append(dict(text=f"<b>{xtitle}</b>", xref="paper", yref="paper", x=1830 / W,
                                y=1 - (bot + 136) / H, xanchor="center", yanchor="middle",
                                showarrow=False, font=dict(family=FONT, size=62, color="#111")))
    else:
        # the last title sits on the bottom edge of the page
        annotations.append(dict(text=f"<b>{xtitle}</b>", xref="paper", yref="paper", x=1830 / W,
                                y=0, xanchor="center", yanchor="bottom",
                                showarrow=False, font=dict(family=FONT, size=58, color="#111")))

fig.update_layout(
    width=W, height=H, autosize=False,
    margin=dict(l=0, r=0, t=0, b=0, pad=0, autoexpand=False),
    paper_bgcolor="white", plot_bgcolor="white",
    showlegend=False,
    shapes=shapes, annotations=annotations,
    **layout,
)

fig.write_html("out.html", config={"displayModeBar": False},
               post_script="document.body.style.margin='0px';")
